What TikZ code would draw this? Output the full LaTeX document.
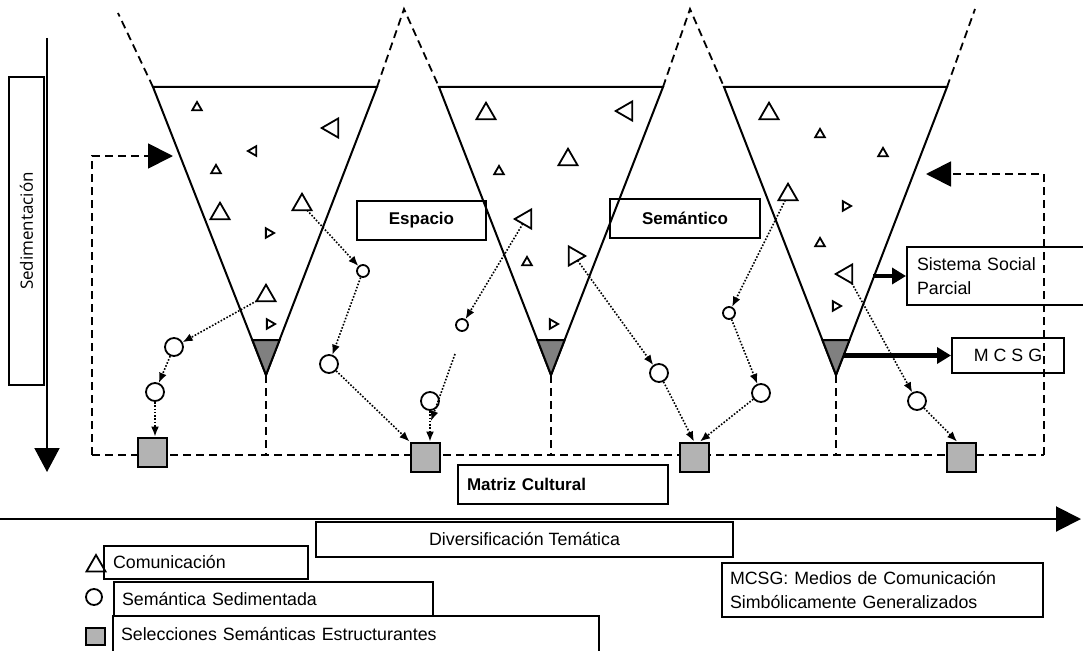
\documentclass[tikz,border=0pt]{standalone}
\usepackage{fontspec}
\setmainfont{Liberation Sans}
\newfontfamily\sedfont{Open Sans}
\usetikzlibrary{arrows.meta,shapes.geometric}

\definecolor{tipgray}{HTML}{808080}
\definecolor{selgray}{HTML}{B3B3B3}

\tikzset{
  edge/.style={line width=2pt, line join=miter},
  dashline/.style={line width=1.8pt, dash pattern=on 8pt off 5pt},
  dotarrow/.style={line width=1.6pt, dash pattern=on 1.6pt off 1.7pt,
                   -{Latex[length=10pt,width=8pt]}},
  comm/.style={regular polygon, regular polygon sides=3, draw, line width=1.8pt,
               inner sep=0pt, outer sep=0pt},
  commL/.style={comm, minimum size=22pt},
  commS/.style={comm, minimum size=11pt},
  sem/.style={circle, draw, line width=1.8pt, fill=white, inner sep=0pt},
  semL/.style={sem, minimum size=18pt},
  semS/.style={sem, minimum size=12pt},
  selsq/.style={rectangle, draw, line width=2pt, fill=selgray,
                minimum size=29pt, inner sep=0pt},
  tagbox/.style={draw, line width=2pt, inner sep=0pt,
                 font=\fontsize{17.8}{24}\selectfont},
  lefttag/.style={tagbox, align=left},
  boldtag/.style={tagbox, font=\fontsize{17}{22}\selectfont\bfseries},
  bigtip/.style={-{Triangle[length=25pt,width=25pt]}},
  thickarrow/.style={line width=4.2pt, -{Triangle[length=14pt,width=16pt]}},
}

\begin{document}
\begin{tikzpicture}[x=1pt, y=-1pt]
\useasboundingbox (0,0) rectangle (1083,650);
\clip (0,0) rectangle (1083,650);

% ---- funnels (semantic spaces) ----
\draw[edge] (153,87) -- (377,87) -- (266,375) -- cycle;
\draw[edge] (439,87) -- (663,87) -- (551,375) -- cycle;
\draw[edge] (724,87) -- (947,87) -- (836,375) -- cycle;
% sedimented tips
\filldraw[edge, fill=tipgray] (252.4,340) -- (279.6,340) -- (266,375) -- cycle;
\filldraw[edge, fill=tipgray] (537.4,340) -- (564.6,340) -- (551,375) -- cycle;
\filldraw[edge, fill=tipgray] (822.4,340) -- (849.5,340) -- (836,375) -- cycle;
% open continuation above the funnels
\draw[dashline] (153,87) -- (118,13);
\draw[dashline] (377,87) -- (404,9) -- (439,87);
\draw[dashline] (663,87) -- (690,9) -- (724,87);
\draw[dashline] (947,87) -- (975,9);

% ---- cultural matrix frame ----
\coordinate (fbL0) at (92,455);
\coordinate (fbL1) at (92,156);
\coordinate (fbL2) at (173,156);
\coordinate (fbR0) at (1044,455);
\coordinate (fbR1) at (1044,174);
\coordinate (fbR2) at (926,174);
\draw[dashline] (fbL0) -- (fbR0);
\draw[dashline, bigtip] (fbL0) -- (fbL1) -- (fbL2);
\draw[dashline, bigtip] (fbR0) -- (fbR1) -- (fbR2);
\coordinate (tip1) at (266,375);
\coordinate (tip2) at (551,375);
\coordinate (tip3) at (836,375);
\draw[dashline] (tip1) -- (tip1 |- fbL0);
\draw[dashline] (tip2) -- (tip2 |- fbL0);
\draw[dashline] (tip3) -- (tip3 |- fbL0);

% ---- communications ----
\node[commS] (t1) at (197,107.5) {};
\node[commL, rotate=90] (t2) at (332.7,128) {};
\node[commS, rotate=90] (t3) at (253.4,151) {};
\node[commS] (t4) at (216,170.4) {};
\node[commL] (t5) at (220,213.7) {};
\node[commL] (t6) at (302,204.7) {};
\node[commS, rotate=-90] (t7) at (268.6,233) {};
\node[commL] (t8) at (266,295.7) {};
\node[commS, rotate=-90] (t9) at (269.6,324) {};

\node[commL] (t10) at (486,113.7) {};
\node[commL, rotate=90] (t11) at (626.7,111) {};
\node[commL] (t12) at (568,159.7) {};
\node[commS] (t13) at (499,171.4) {};
\node[commL, rotate=90] (t14) at (525.7,219) {};
\node[commS] (t15) at (527,262.4) {};
\node[commL, rotate=-90] (t16) at (574.3,256) {};
\node[commS, rotate=-90] (t17) at (552.6,324) {};

\node[commL] (t18) at (769,113.7) {};
\node[commS] (t19) at (820,134.4) {};
\node[commS] (t20) at (883,153.4) {};
\node[commL] (t21) at (788,194.7) {};
\node[commS, rotate=-90] (t22) at (845.6,206) {};
\node[commS] (t23) at (820,243.4) {};
\node[commL, rotate=90] (t24) at (846.7,274) {};
\node[commS, rotate=-90] (t25) at (835.6,306) {};

% ---- sedimented semantics ----
\node[semL] (c1) at (174,347) {};
\node[semL] (c2) at (155,392) {};
\node[semS] (c3) at (363,271) {};
\node[semL] (c4) at (329,364) {};
\node[semS] (c5) at (462,325) {};
\node[semL] (c6) at (430,401) {};
\node[semL] (c7) at (659,373) {};
\node[semS] (c8) at (729,313) {};
\node[semL] (c9) at (761,393) {};
\node[semL] (c10) at (917,401) {};

% ---- structuring semantic selections ----
\node[selsq] (s1) at (152,452) {};
\node[selsq] (s2) at (425,457) {};
\node[selsq] (s3) at (694,457) {};
\node[selsq] (s4) at (961,457) {};

% ---- sedimentation paths ----
\draw[dotarrow] (t8) -- (c1);
\draw[dotarrow] (c1) -- (c2);
\draw[dotarrow] (c2) -- (c2 |- s1.north);
\draw[dotarrow] (t6) -- (c3);
\draw[dotarrow] (c3) -- (c4);
\draw[dotarrow] (c4) -- (s2.north west);
\draw[dotarrow] (t14) -- (c5);
\coordinate (p1) at (455,354);
\coordinate (p2) at (431,421);
\draw[dotarrow] (p1) -- (p2);
\draw[dotarrow] (c6) -- (c6 |- s2.north);
\draw[dotarrow] (t16) -- (c7);
\draw[dotarrow] (c7) -- (s3.north);
\draw[dotarrow] (t21) -- (c8);
\draw[dotarrow] (c8) -- (c9);
\draw[dotarrow] (c9) -- ([xshift=6pt]s3.north);
\draw[dotarrow] (t24) -- (c10);
\draw[dotarrow] (c10) -- ([xshift=-4pt]s4.north);

% ---- labels inside the diagram ----
\node[boldtag, minimum width=129pt, minimum height=39pt] (espacio) at (421.5,220.5) {Espacio};
\node[boldtag, minimum width=150pt, minimum height=39pt] (semantico) at (685,218.5) {Semántico};
\node[boldtag, align=left, text width=192pt, inner xsep=9pt, minimum height=39pt] (matriz) at (563,484.5) {Matriz Cultural};
\node[lefttag, text width=173pt, inner xsep=10pt, minimum height=58pt] (sys) at (1003.5,276) {Sistema Social\\Parcial};
\node[tagbox, minimum width=112pt, minimum height=35pt] (mcsg) at (1008,355.5) {M C S G};

\coordinate (f3a) at (873,276);
\coordinate (f3b) at (843,355.5);
\draw[thickarrow] (f3a) -- (sys.west);
\draw[thickarrow] (f3b) -- (mcsg.west);

% ---- axes ----
\node[draw, line width=2pt, rotate=90, minimum width=308pt, minimum height=35pt,
      inner sep=0pt, font=\sedfont\fontsize{17}{20}\selectfont] (sedbox) at (26.5,231) {Sedimentación};
\coordinate (sedtop) at (47,38);
\coordinate (sedend) at (47,472);
\draw[line width=2pt, -{Triangle[length=24pt,width=25pt]}] (sedtop) -- (sedend);

\coordinate (axL) at (0,519);
\coordinate (axR) at (1081,519);
\draw[line width=2pt, bigtip] (axL) -- (axR);
\node[tagbox, minimum width=417pt, minimum height=35pt] (divers) at (524.5,539.5) {Diversificación Temática};

% ---- legend ----
\node[commL] (lt) at (96,566) {};
\node[lefttag, text width=186pt, inner xsep=9pt, minimum height=33pt] (lcom) at (206,562.5) {Comunicación};
\node[sem, minimum size=16pt] (lc) at (94,597) {};
\node[lefttag, text width=303pt, inner xsep=8pt, minimum height=34pt] (lsem) at (273.5,599) {Semántica Sedimentada};
\node[rectangle, draw, line width=2pt, fill=selgray, minimum width=19pt, minimum height=17pt, inner sep=0pt] (ls) at (95.5,636.5) {};
\node[lefttag, text width=470pt, inner xsep=8pt, minimum height=36pt] (lsel) at (356,634) {Selecciones Semánticas Estructurantes};
\node[lefttag, text width=305pt, inner xsep=8pt, minimum height=54pt] (lmcsg) at (882.5,590) {MCSG: Medios de Comunicación\\Simbólicamente Generalizados};

\end{tikzpicture}
\end{document}
